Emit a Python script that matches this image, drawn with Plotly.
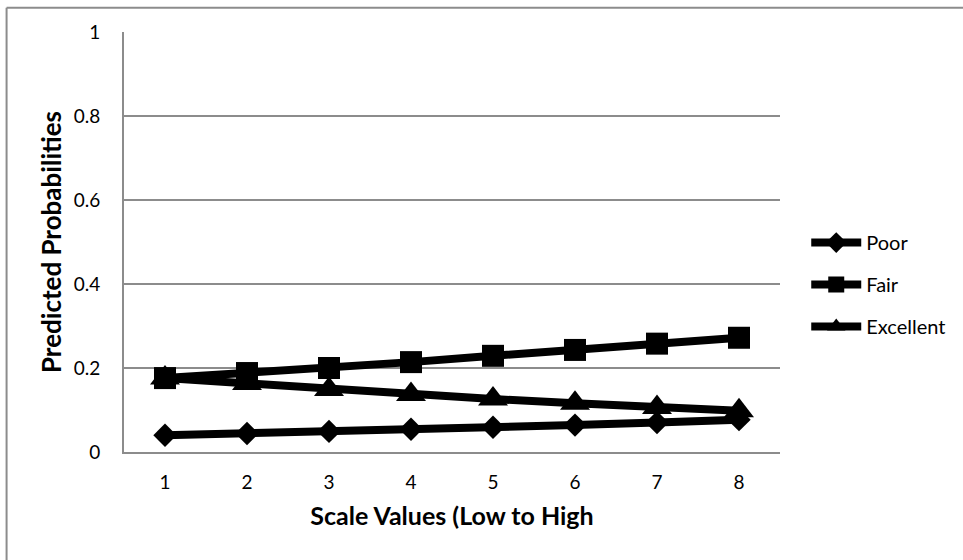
import plotly.graph_objects as go

categories = ["1", "2", "3", "4", "5", "6", "7", "8"]
poor = [0.040, 0.044, 0.049, 0.054, 0.059, 0.064, 0.070, 0.077]
fair = [0.176, 0.188, 0.200, 0.214, 0.229, 0.243, 0.258, 0.272]
excellent = [0.176, 0.163, 0.149, 0.137, 0.126, 0.116, 0.106, 0.098]
series_names = ["Poor", "Fair", "Excellent"]
y_ticks = [0, 0.2, 0.4, 0.6, 0.8, 1]
y_tick_labels = ["0", "0.2", "0.4", "0.6", "0.8", "1"]

FONT = "Lato"
fig = go.Figure()
specs = [(poor, "diamond", 18), (fair, "square", 22), (excellent, "triangle-up", 26)]
for name, (vals, sym, sz) in zip(series_names, specs):
    fig.add_trace(go.Scatter(
        x=categories, y=vals, name=name, mode="lines+markers",
        line=dict(color="black", width=8),
        marker=dict(symbol=sym, size=sz, color="black"),
        legendgroup=name,
    ))

fig.update_layout(
    width=963, height=560,
    margin=dict(l=124, r=183, t=32, b=108),
    paper_bgcolor="white", plot_bgcolor="white",
    font=dict(family=FONT, size=18, color="black"),
    legend=dict(x=1.04, y=0.545, xanchor="left", yanchor="top",
                font=dict(family=FONT, size=20, color="black"),
                itemwidth=50,
                tracegroupgap=13, bgcolor="rgba(0,0,0,0)"),
    xaxis=dict(type="category", range=[-0.5, 7.5], showgrid=False,
               showline=True, linecolor="#8c8c8c", linewidth=2,
               ticks="", ticklabelstandoff=12,
               tickfont=dict(family=FONT, size=19),
               title=dict(text="<b>Scale Values (Low to High</b>",
                          font=dict(family=FONT, size=25), standoff=16)),
    yaxis=dict(range=[0, 1], tickvals=y_ticks, ticktext=y_tick_labels,
               showgrid=True, gridcolor="#8c8c8c", gridwidth=1.5,
               showline=True, linecolor="#8c8c8c", linewidth=2,
               ticks="", ticklabelstandoff=18, zeroline=False,
               tickfont=dict(family=FONT, size=19),
               title=dict(text="<b>Predicted Probabilities</b>",
                          font=dict(family=FONT, size=26), standoff=5)),
    shapes=[
        dict(type="line", xref="paper", yref="paper",
             x0=-0.179, x1=-0.179, y0=1.058, y1=-0.35,
             line=dict(color="#8c8c8c", width=2)),
        dict(type="line", xref="paper", yref="paper",
             x0=-0.179, x1=1.35, y0=1.058, y1=1.058,
             line=dict(color="#8c8c8c", width=2)),
    ],
)
fig.write_html("out.html", config={"displayModeBar": False},
               post_script="document.body.style.margin='0px';")
